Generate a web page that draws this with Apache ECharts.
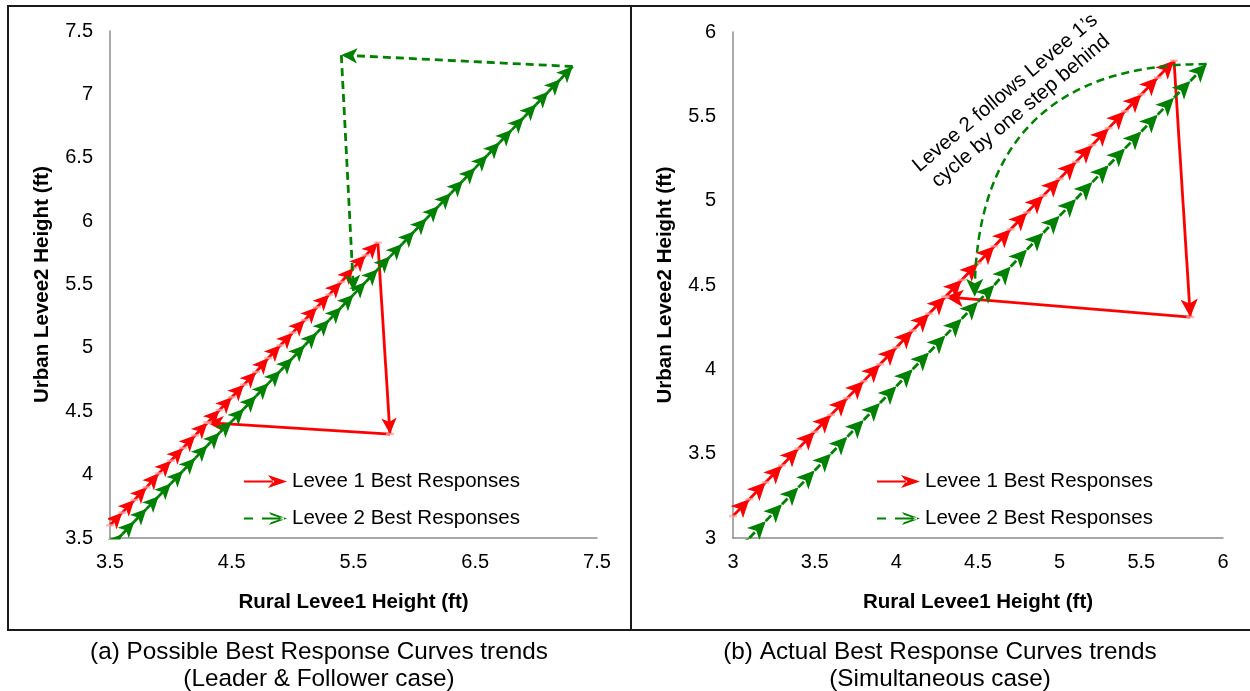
<!DOCTYPE html>
<html>
<head>
<meta charset="utf-8">
<script src="https://cdn.jsdelivr.net/npm/echarts@6/dist/echarts.min.js"></script>
<style>
  html, body { margin: 0; padding: 0; background: #ffffff; }
  #chart { width: 1250px; height: 691px; }
</style>
</head>
<body>
<div id="chart"></div>
<script>
// ---------- Panel (a): leader & follower ----------
// Levee 1 best-response path (chain, then the drop and the jump back)
const aLevee1X = [3.5, 3.6, 3.7, 3.8, 3.9, 4.0, 4.1, 4.2, 4.3, 4.4, 4.5, 4.6, 4.7, 4.8, 4.9, 5.0, 5.1, 5.2, 5.3, 5.4, 5.5, 5.6, 5.7, 5.8, 4.3];
const aLevee1Y = [3.60, 3.70, 3.80, 3.90, 4.01, 4.11, 4.21, 4.31, 4.41, 4.51, 4.61, 4.71, 4.81, 4.92, 5.02, 5.12, 5.22, 5.32, 5.42, 5.52, 5.63, 5.73, 5.83, 4.32, 4.41];
// Levee 2 best-response path (chain, then back across the top and down)
const aLevee2X = [3.5, 3.6, 3.7, 3.8, 3.9, 4.0, 4.1, 4.2, 4.3, 4.4, 4.5, 4.6, 4.7, 4.8, 4.9, 5.0, 5.1, 5.2, 5.3, 5.4, 5.5, 5.6, 5.7, 5.8, 5.9, 6.0, 6.1, 6.2, 6.3, 6.4, 6.5, 6.6, 6.7, 6.8, 6.9, 7.0, 7.1, 7.2, 7.3, 5.4, 5.5];
const aLevee2Y = [3.43, 3.53, 3.63, 3.73, 3.83, 3.93, 4.03, 4.13, 4.23, 4.33, 4.42, 4.52, 4.62, 4.72, 4.82, 4.92, 5.02, 5.12, 5.22, 5.32, 5.42, 5.52, 5.62, 5.72, 5.82, 5.92, 6.02, 6.12, 6.22, 6.32, 6.42, 6.52, 6.62, 6.72, 6.82, 6.92, 7.02, 7.12, 7.22, 7.31, 5.45];
const aXTickLabels = [3.5, 4.5, 5.5, 6.5, 7.5];
const aYTickLabels = [3.5, 4, 4.5, 5, 5.5, 6, 6.5, 7, 7.5];

// ---------- Panel (b): simultaneous ----------
const bLevee1X = [3.0, 3.1, 3.2, 3.3, 3.4, 3.5, 3.6, 3.7, 3.8, 3.9, 4.0, 4.1, 4.2, 4.3, 4.4, 4.5, 4.6, 4.7, 4.8, 4.9, 5.0, 5.1, 5.2, 5.3, 5.4, 5.5, 5.6, 5.7, 5.8, 4.3];
const bLevee1Y = [3.13, 3.23, 3.33, 3.43, 3.53, 3.63, 3.73, 3.83, 3.93, 4.03, 4.13, 4.23, 4.33, 4.43, 4.53, 4.63, 4.73, 4.83, 4.93, 5.03, 5.13, 5.23, 5.33, 5.43, 5.53, 5.63, 5.73, 5.83, 4.31, 4.43];
const bLevee2X = [3.0, 3.1, 3.2, 3.3, 3.4, 3.5, 3.6, 3.7, 3.8, 3.9, 4.0, 4.1, 4.2, 4.3, 4.4, 4.5, 4.6, 4.7, 4.8, 4.9, 5.0, 5.1, 5.2, 5.3, 5.4, 5.5, 5.6, 5.7, 5.8, 5.9];
const bLevee2Y = [2.90, 3.00, 3.10, 3.20, 3.30, 3.40, 3.50, 3.60, 3.70, 3.80, 3.90, 4.00, 4.10, 4.20, 4.30, 4.40, 4.50, 4.61, 4.71, 4.81, 4.91, 5.01, 5.11, 5.21, 5.31, 5.41, 5.51, 5.61, 5.71, 5.81];
// curved return of Levee 2 (one step behind Levee 1)
const bLevee2ReturnX = [5.9, 4.48];
const bLevee2ReturnY = [5.81, 4.43];
const bXTickLabels = [3, 3.5, 4, 4.5, 5, 5.5, 6];
const bYTickLabels = [3, 3.5, 4, 4.5, 5, 5.5, 6];

const L1 = 'Levee 1 Best Responses';
const L2 = 'Levee 2 Best Responses';
const FONT = '"Liberation Sans", Arial, Helvetica, sans-serif';
const RED = '#ff0000';
const GREEN = '#008000';
const AXIS_GREY = '#8c8c8c';

// consecutive points -> arrow segments
function segments(xs, ys) {
  const out = [];
  for (let i = 0; i < xs.length - 1; i++) {
    out.push({ coords: [[xs[i], ys[i]], [xs[i + 1], ys[i + 1]]] });
  }
  return out;
}
function points(xs, ys) {
  return xs.map((x, i) => [x, ys[i]]);
}
function tickFormatter(list) {
  return function (v) {
    const r = Math.round(v * 10) / 10;
    return list.indexOf(r) >= 0 ? String(r) : '';
  };
}
function valueAxis(gridIndex, min, max, labels, name, isX) {
  return {
    type: 'value', gridIndex: gridIndex, min: min, max: max, interval: 0.5,
    name: name, nameLocation: 'middle', nameGap: isX ? 54 : 57,
    nameTextStyle: { fontFamily: FONT, fontWeight: 'bold', fontSize: 20.5, color: '#000' },
    axisLine: { show: true, onZero: false, lineStyle: { color: AXIS_GREY, width: 1.5 } },
    axisTick: { show: false },
    splitLine: { show: false },
    axisLabel: {
      show: true, margin: isX ? 14 : 17, fontFamily: FONT, fontSize: 20, color: '#000',
      showMinLabel: true, showMaxLabel: true, hideOverlap: false,
      formatter: tickFormatter(labels)
    }
  };
}

const legendIcon1 = 'path://M0,6.1L30,6.1L30,7.9L0,7.9Z M43,7L24,0.5L29,7L24,13.5Z';
const legendIcon2 = 'path://M0,6.1L9,6.1L9,7.9L0,7.9Z M18,6.1L40,6.1L40,7.9L18,7.9Z M43,7L25,0.5L27,3.2L38,7L27,10.8L25,13.5Z';

function legend(left) {
  return {
    orient: 'vertical', left: left, top: 471, padding: 0,
    itemWidth: 43, itemHeight: 14, itemGap: 16,
    selectedMode: false,
    textStyle: { fontFamily: FONT, fontSize: 20.5, color: '#000' },
    data: [
      { name: L1, icon: legendIcon1, itemStyle: { color: RED, borderWidth: 0 } },
      { name: L2, icon: legendIcon2, itemStyle: { color: GREEN, borderWidth: 0 } }
    ]
  };
}

function arrowSeries(name, gi, xs, ys, color, dashed, size, z) {
  return {
    type: 'lines', name: name, coordinateSystem: 'cartesian2d',
    xAxisIndex: gi, yAxisIndex: gi, silent: true, z: z, clip: true,
    symbol: ['none', 'arrow'], symbolSize: [1, size],
    itemStyle: { color: color },
    lineStyle: { color: color, width: 2.8, opacity: 1, type: dashed ? [8, 5] : 'solid', curveness: 0 },
    data: segments(xs, ys)
  };
}
function markerSeries(gi, xs, ys) {
  return {
    type: 'scatter', name: 'Levee 1 points', xAxisIndex: gi, yAxisIndex: gi, silent: true, z: 4,
    symbol: 'rect', symbolSize: [8, 2.5],
    itemStyle: { color: 'rgba(255,160,160,0.9)' },
    data: points(xs, ys)
  };
}

const chart = echarts.init(document.getElementById('chart'), null, { renderer: 'canvas' });
chart.setOption({
  animation: false,
  backgroundColor: '#ffffff',
  textStyle: { fontFamily: FONT },
  grid: [
    { left: 110, top: 31, width: 487, height: 507 },
    { left: 733, top: 32, width: 490, height: 506 }
  ],
  xAxis: [
    valueAxis(0, 3.5, 7.5, aXTickLabels, 'Rural Levee1 Height (ft)', true),
    valueAxis(1, 3, 6, bXTickLabels, 'Rural Levee1 Height (ft)', true)
  ],
  yAxis: [
    valueAxis(0, 3.5, 7.5, aYTickLabels, 'Urban Levee2 Height (ft)', false),
    valueAxis(1, 3, 6, bYTickLabels, 'Urban Levee2 Height (ft)', false)
  ],
  legend: [legend(244), legend(877)],
  series: [
    arrowSeries(L1, 0, aLevee1X, aLevee1Y, RED, false, [11.5, 16], 3),
    markerSeries(0, aLevee1X, aLevee1Y),
    arrowSeries(L2, 0, aLevee2X, aLevee2Y, GREEN, true, [11.5, 16], 5),
    arrowSeries(L1, 1, bLevee1X, bLevee1Y, RED, false, [13, 18], 3),
    markerSeries(1, bLevee1X, bLevee1Y),
    arrowSeries(L2, 1, bLevee2X, bLevee2Y, GREEN, true, [13, 18], 5),
    {
      type: 'lines', name: L2, coordinateSystem: 'cartesian2d',
      xAxisIndex: 1, yAxisIndex: 1, silent: true, z: 5, clip: true,
      symbol: ['none', 'arrow'], symbolSize: [1, [13, 18]],
      itemStyle: { color: GREEN },
      lineStyle: { color: GREEN, width: 2.5, opacity: 1, type: [8, 5], curveness: -0.5 },
      data: segments(bLevee2ReturnX, bLevee2ReturnY)
    }
  ],
  graphic: [
    // panel frame and divider
    { type: 'rect', silent: true, z: 0, shape: { x: 8, y: 6, width: 1250, height: 624 },
      style: { fill: 'none', stroke: '#1a1a1a', lineWidth: 2 } },
    { type: 'line', silent: true, z: 0, shape: { x1: 631, y1: 6, x2: 631, y2: 630 },
      style: { stroke: '#1a1a1a', lineWidth: 2 } },
    // captions
    { type: 'text', silent: true, x: 319, y: 666,
      style: { text: '(a) Possible Best Response Curves trends\n(Leader & Follower case)',
        align: 'center', verticalAlign: 'middle', lineHeight: 27,
        fontFamily: FONT, fontSize: 24.3, fill: '#000' } },
    { type: 'text', silent: true, x: 940, y: 666,
      style: { text: '(b) Actual Best Response Curves trends\n(Simultaneous case)',
        align: 'center', verticalAlign: 'middle', lineHeight: 27,
        fontFamily: FONT, fontSize: 24.3, fill: '#000' } },
    // annotation on panel (b)
    { type: 'text', silent: true, z: 10, x: 1013, y: 102, rotation: 40 * Math.PI / 180,
      style: { text: 'Levee 2 follows Levee 1\u2019s\ncycle by one step behind',
        align: 'center', verticalAlign: 'middle', lineHeight: 24,
        fontFamily: FONT, fontSize: 20.5, fill: '#000' } }
  ]
});
</script>
</body>
</html>
